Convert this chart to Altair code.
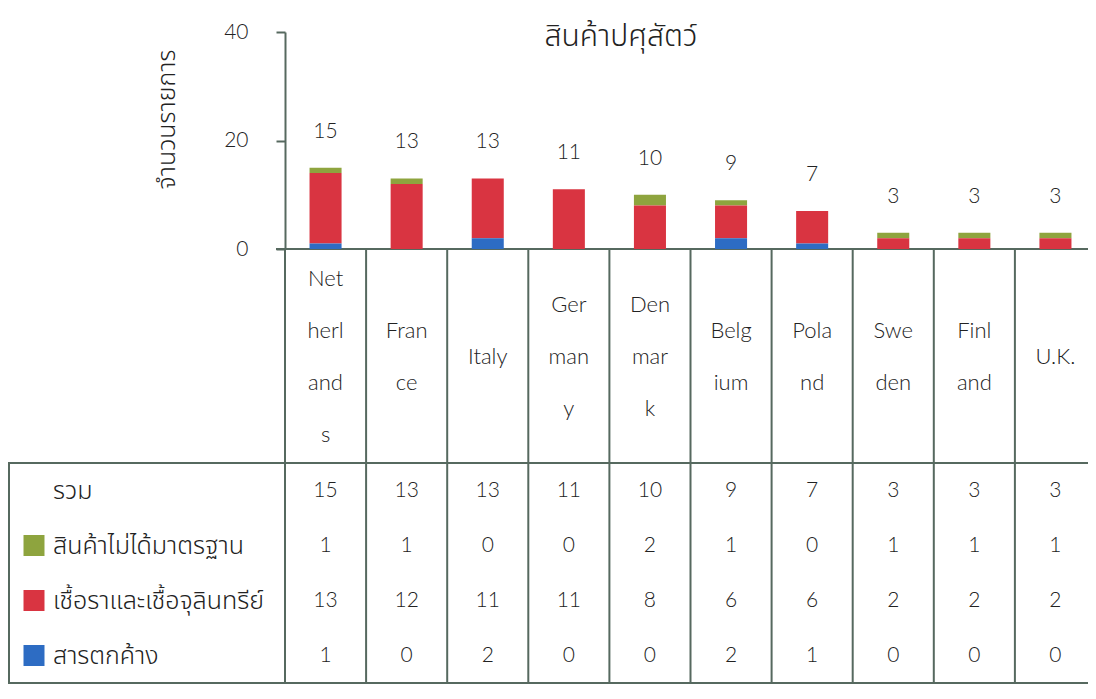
import altair as alt
import pandas as pd

# ---------------- data ----------------
countries = ["Netherlands", "France", "Italy", "Germany", "Denmark",
             "Belgium", "Poland", "Sweden", "Finland", "U.K."]
country_labels = ["Net\nherl\nand\ns", "Fran\nce", "Italy", "Ger\nman\ny", "Den\nmar\nk",
                  "Belg\nium", "Pola\nnd", "Swe\nden", "Finl\nand", "U.K."]
substandard = [1, 1, 0, 0, 2, 1, 0, 1, 1, 1]
microbes = [13, 12, 11, 11, 8, 6, 6, 2, 2, 2]
residues = [1, 0, 2, 0, 0, 2, 1, 0, 0, 0]
totals = [15, 13, 13, 11, 10, 9, 7, 3, 3, 3]

series_names = ["สินค้าไม่ได้มาตรฐาน", "เชื้อราและเชื้อจุลินทรีย์", "สารตกค้าง"]
series_colors = ["#8EA43E", "#D93441", "#2D6CC3"]
total_row = "รวม"
row_names = [total_row] + series_names
y_ticks = [0, 20, 40]
title_text = "สินค้าปศุสัตว์"
y_title = "จำนวนรายการ"

# ---------------- tables built from the arrays ----------------
series_values = [substandard, microbes, residues]
stack_order = [2, 1, 0]  # residues at the bottom, substandard on top

bars_df = pd.DataFrame([
    {"country": c, "series": s, "value": vals[i], "order": o}
    for s, vals, o in zip(series_names, series_values, stack_order)
    for i, c in enumerate(countries)
])
totals_df = pd.DataFrame({"country": countries, "total": totals, "label": country_labels})
table_df = pd.DataFrame(
    [{"country": c, "row": total_row, "value": totals[i]} for i, c in enumerate(countries)]
    + [{"country": c, "row": s, "value": vals[i]}
       for s, vals in zip(series_names, series_values)
       for i, c in enumerate(countries)]
)
rows_df = pd.DataFrame({"row": row_names})
swatch_df = pd.DataFrame({"series": series_names})

# ---------------- layout / style ----------------
W, H = 1080, 676          # drawing surface (page width minus margins)
COL_X0, COL_X1 = 277, 1088  # column band (last column runs to the page edge)
PLOT_TOP, PLOT_BASE = 24, 241
TABLE_TOP, TABLE_BOTTOM = 455, 675
NAMES_Y = 349
NAME_LH = 52
LINE = "#56695F"
TXT = "#222222"
FONT_TH = "Noto Sans Thai, Loma, Garuda, Norasi, Noto Sans, sans-serif"
FONT_LAT = "Lato, Noto Sans, sans-serif"

xscale = alt.Scale(domain=countries, range=[COL_X0, COL_X1], paddingInner=0, paddingOuter=0)
yscale = alt.Scale(domain=[0, 40], range=[PLOT_BASE, PLOT_TOP], nice=False, zero=True)
rowscale = alt.Scale(domain=row_names, range=[TABLE_TOP, TABLE_BOTTOM], paddingInner=0, paddingOuter=0)
colscale = alt.Scale(domain=series_names, range=series_colors)

X = alt.X("country:N", scale=xscale, axis=None)

bars = alt.Chart(bars_df).mark_bar(width={"band": 0.395}).encode(
    x=X,
    y=alt.Y("value:Q", stack="zero", scale=yscale,
            axis=alt.Axis(values=y_ticks, offset=-COL_X0, grid=False,
                          tickSize=9, tickWidth=2, tickColor=LINE,
                          domainColor=LINE, domainWidth=2,
                          labelPadding=28, labelFontSize=21, labelFont=FONT_LAT,
                          labelColor=TXT, labelFontWeight=300,
                          title=y_title, titleFont=FONT_TH, titleFontSize=25,
                          titleFontWeight=300, titleColor=TXT,
                          titleAngle=270, titleX=-119, titleY=111,
                          titleAlign="center", titleBaseline="middle")),
    color=alt.Color("series:N", scale=colscale, legend=None),
    order=alt.Order("order:Q"),
)

total_text = alt.Chart(totals_df).mark_text(
    dy=-36, baseline="middle", fontSize=21, font=FONT_LAT, fontWeight=300, color=TXT
).encode(x=X, y=alt.Y("total:Q", scale=yscale, axis=None), text="total:Q")

# multi-line country names, each block centred vertically in the name band
names = alt.Chart(totals_df).transform_calculate(
    ypos=f"{NAMES_Y} - (split(datum.label, '\\n').length - 1) * {NAME_LH} / 2"
).mark_text(
    baseline="middle", fontSize=22, font=FONT_LAT, fontWeight=300, color=TXT,
    lineBreak="\n", lineHeight=NAME_LH
).encode(x=X, y=alt.Y("ypos:Q", scale=None, axis=None), text="label:N")

cells = alt.Chart(table_df).mark_text(
    baseline="middle", fontSize=21, font=FONT_LAT, fontWeight=300, color=TXT
).encode(x=X, y=alt.Y("row:N", scale=rowscale, axis=None), text="value:Q")

row_labels = alt.Chart(rows_df).mark_text(
    align="left", baseline="middle", fontSize=25, font=FONT_TH, fontWeight=300, color=TXT
).encode(x=alt.value(45), y=alt.Y("row:N", scale=rowscale, axis=None), text="row:N")

swatches = alt.Chart(swatch_df).mark_square(size=441, opacity=1).encode(
    x=alt.value(26),
    y=alt.Y("series:N", scale=rowscale, axis=None),
    color=alt.Color("series:N", scale=colscale, legend=None),
)

one = alt.Data(values=[{}])
rule_style = dict(color=LINE, strokeWidth=2)

col_lines = alt.Chart(totals_df).mark_rule(**rule_style).encode(
    x=alt.X("country:N", scale=xscale, axis=None, bandPosition=0),
    y=alt.value(PLOT_BASE), y2=alt.value(TABLE_BOTTOM))
baseline = alt.Chart(one).mark_rule(**rule_style).encode(
    x=alt.value(COL_X0 - 9), x2=alt.value(W), y=alt.value(PLOT_BASE))
table_top = alt.Chart(one).mark_rule(**rule_style).encode(
    x=alt.value(0), x2=alt.value(W), y=alt.value(TABLE_TOP))
table_bottom = alt.Chart(one).mark_rule(**rule_style).encode(
    x=alt.value(0), x2=alt.value(W), y=alt.value(TABLE_BOTTOM))
table_left = alt.Chart(one).mark_rule(**rule_style).encode(
    x=alt.value(1), y=alt.value(TABLE_TOP), y2=alt.value(TABLE_BOTTOM))

title = alt.Chart(one).mark_text(
    fontSize=30, font=FONT_TH, fontWeight=300, color=TXT, baseline="middle", align="center"
).encode(x=alt.value(613), y=alt.value(29), text=alt.value(title_text))

chart = alt.layer(
    col_lines, baseline, table_top, table_bottom, table_left,
    bars, total_text, names, cells, row_labels, swatches, title
).resolve_scale(y="independent").properties(
    width=W, height=H, autosize=alt.AutoSizeParams(type="none"), padding=0,
    background="white"
).configure_view(strokeWidth=0)

chart.save("out.html", embed_options={"renderer": "svg", "actions": False})
